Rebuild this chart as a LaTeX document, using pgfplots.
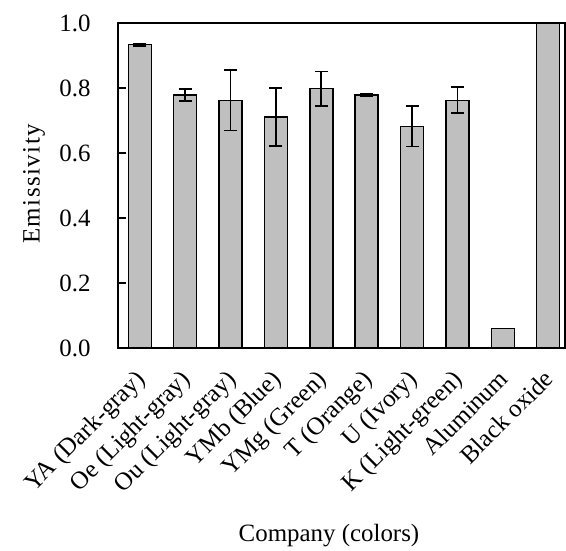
\documentclass[border=0pt]{standalone}
\usepackage{fontspec}
\setmainfont{Liberation Serif}
\newfontfamily\spaced[LetterSpace=6,Kerning=Off]{Liberation Serif}
\usepackage{pgfplots}
\pgfplotsset{compat=1.18}
\definecolor{barfill}{RGB}{191,191,191}
\pgfplotstableread{
x y e
0 0.933 0.003
1 0.779 0.018
2 0.762 0.093
3 0.711 0.089
4 0.798 0.053
5 0.779 0.004
6 0.682 0.062
7 0.762 0.040
8 0.060 0
9 1.000 0
}\emisdata
\begin{document}
\begin{tikzpicture}[font=\fontsize{25}{30}\selectfont]
\begin{axis}[
  at={(0,0)}, anchor=south west,
  scale only axis, width=447bp, height=325bp,
  xmin=-0.48, xmax=9.37, ymin=0, ymax=1,
  axis line style={line width=1.5bp},
  every tick label/.append style={font=\fontsize{25}{30}\selectfont},
  label style={font=\fontsize{25}{30}\selectfont},
  xtick={0,...,9},
  xticklabels={YA (Dark-gray),Oe (Light-gray),Ou (Light-gray),YMb (Blue),YMg (Green),T (Orange),U (Ivory),K (Light-green),Aluminum,Black oxide},
  xtick style={draw=none},
  xticklabel style={rotate=45, anchor=north east, inner sep=0pt, xshift=-12.6bp, yshift=-4.4bp},
  ytick={0,0.2,0.4,0.6,0.8,1.0},
  yticklabel style={/pgf/number format/.cd, fixed, fixed zerofill, precision=1, /tikz/.cd, xshift=-24bp},
  /pgf/number format/assume math mode=true,
  ytick pos=left,
  tick align=inside,
  major tick length=8bp,
  ytick style={line width=1.2bp, black},
  ylabel={Emissivity},
  xlabel={Company (colors)},
  ylabel style={font=\spaced\fontsize{25}{30}\selectfont, at={(axis description cs:-0.188,0.505)}, anchor=center},
  xlabel style={at={(axis description cs:0.472,0)}, anchor=center, yshift=-188bp},
  ybar, bar width=23bp,
]
\addplot[fill=barfill, draw=black, line width=1.4bp,
  error bars/.cd, y dir=both, y explicit,
  error bar style={line width=1.8bp, black},
  error mark options={rotate=90, mark size=6.5bp, line width=1.8bp, black}]
  table[x=x, y=y, y error=e] {\emisdata};
\end{axis}
\pgfresetboundingbox
\path (-118bp,-203bp) rectangle (448bp,348bp);
\end{tikzpicture}
\end{document}
